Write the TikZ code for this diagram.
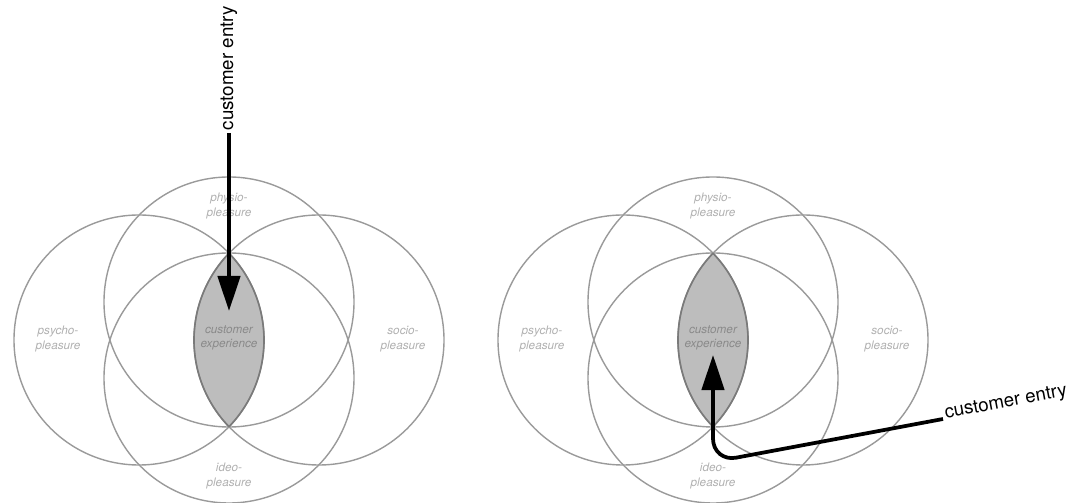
\documentclass[tikz,border=0pt]{standalone}
\usepackage{fontspec}
\setsansfont{TeX Gyre Heros}
\usetikzlibrary{arrows.meta}
\definecolor{ring}{HTML}{9A9A9A}
\definecolor{lensfill}{HTML}{BDBDBD}
\definecolor{lensedge}{HTML}{7A7A7A}
\definecolor{faint}{HTML}{B0B0B0}
\definecolor{core}{HTML}{8A8A8A}
\definecolor{ink}{HTML}{000000}
\tikzset{>=Latex,
  ring/.style={draw=ring,line width=0.6pt},
  lens/.style={fill=lensfill},
  rim/.style={draw=lensedge,line width=0.7pt},
  pleas/.style={font=\sffamily\itshape\fontsize{5}{6.2}\selectfont,text=faint,align=center,inner sep=0pt},
  mid/.style={pleas,text=core},
  entry/.style={draw=ink,line width=1.6pt,-{Triangle[length=15pt,width=9.5pt]}},
  tag/.style={font=\sffamily\fontsize{8}{10}\selectfont,text=ink,inner sep=1pt}}

\begin{document}
\begin{tikzpicture}[x=0.015cm,y=-0.015cm]
  \useasboundingbox (0,0) rectangle (1066,503);
  % two copies of the four pleasures
  \foreach \cx/\s in {229/L,713/R}{
    \coordinate (west\s) at (\cx-90,340);
    \coordinate (east\s) at (\cx+90,340);
    \coordinate (north\s) at (\cx,302);
    \coordinate (south\s) at (\cx,378);
    \begin{scope}
      \clip (west\s) circle[radius=125];
      \fill[lens] (east\s) circle[radius=125];
    \end{scope}
    \foreach \c in {west,east,north,south}
      \draw[ring] (\c\s) circle[radius=125];
    \begin{scope}
      \clip (west\s) circle[radius=125];
      \draw[rim] (east\s) circle[radius=125];
    \end{scope}
    \begin{scope}
      \clip (east\s) circle[radius=125];
      \draw[rim] (west\s) circle[radius=125];
    \end{scope}
    \node[pleas] (phys\s) at (\cx,206) {physio-\\pleasure};
    \node[pleas] (psych\s) at (\cx-171,339) {psycho-\\pleasure};
    \node[pleas] (soc\s) at (\cx+174,339) {socio-\\pleasure};
    \node[pleas] (ideo\s) at (\cx,476) {ideo-\\pleasure};
    \node[mid] (cx\s) at (\cx,338) {customer\\experience};
  }
  % entry from above
  \coordinate (tipL) at (229,311);
  \node[tag,rotate=90,anchor=west] (entryL) at (229,133) {customer entry};
  \draw[entry] (entryL.west) -- (tipL);
  % entry from below right
  \coordinate (tipR) at (713,355);
  \coordinate (bendR) at (713,462);
  \node[tag,rotate=10.6,anchor=base west] (entryR) at (943,419) {customer entry};
  \draw[entry,rounded corners=10pt] (entryR.base west) -- (bendR) -- (tipR);
\end{tikzpicture}
\end{document}
